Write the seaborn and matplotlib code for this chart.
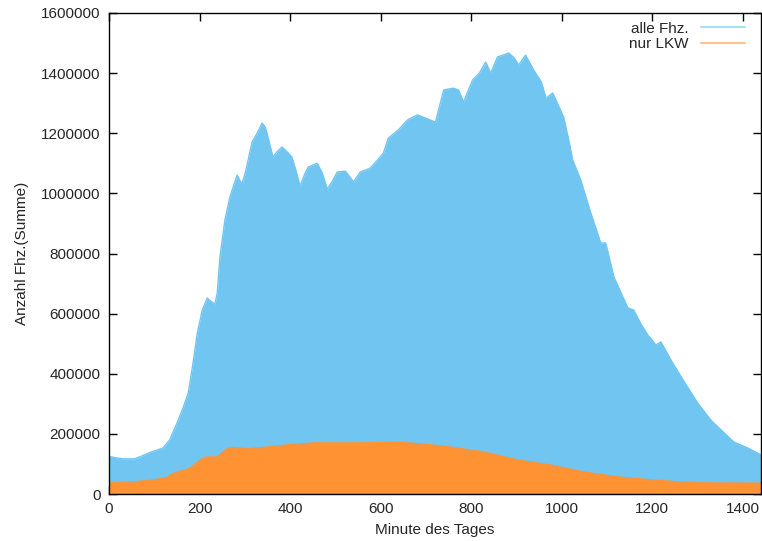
import matplotlib
matplotlib.use("Agg")
import matplotlib.pyplot as plt
import seaborn as sns
import numpy as np
import pandas as pd
from matplotlib.lines import Line2D

# --- data ---
alle_min = [0, 10, 30, 57, 75, 90, 119, 134, 149, 162, 175, 185, 195, 206, 217, 226, 234,
            239, 245, 256, 267, 283, 290, 294, 301, 316, 327, 338, 345, 349, 362, 372, 382,
            392, 404, 413, 422, 431, 440, 460, 471, 482, 493, 504, 522, 540, 555, 577, 593,
            606, 617, 639, 660, 681, 700, 721, 730, 739, 760, 772, 783, 803, 818, 832, 843,
            858, 870, 883, 895, 905, 920, 938, 955, 965, 980, 1004, 1015, 1024, 1042, 1064,
            1086, 1097, 1115, 1146, 1159, 1175, 1190, 1208, 1219, 1241, 1268, 1300, 1329,
            1352, 1380, 1411, 1440]
alle_val = [125000, 122000, 117000, 117000, 128000, 138000, 153000, 180000, 232000, 280000,
            336000, 430000, 535000, 612000, 652000, 640000, 632000, 668000, 788000, 911000,
            988000, 1061000, 1040000, 1034000, 1068000, 1171000, 1200000, 1234000, 1220000,
            1200000, 1121000, 1140000, 1154000, 1140000, 1121000, 1075000, 1024000, 1060000,
            1088000, 1100000, 1068000, 1014000, 1040000, 1071000, 1074000, 1038000, 1071000,
            1084000, 1111000, 1134000, 1184000, 1211000, 1245000, 1261000, 1250000, 1237000,
            1290000, 1344000, 1350000, 1344000, 1304000, 1377000, 1400000, 1437000, 1400000,
            1454000, 1460000, 1467000, 1450000, 1427000, 1460000, 1410000, 1370000, 1317000,
            1334000, 1254000, 1180000, 1111000, 1044000, 935000, 835000, 835000, 722000,
            619000, 612000, 565000, 529000, 496000, 506000, 446000, 379000, 303000, 246000,
            213000, 173000, 153000, 130000]

lkw_min = [0, 53, 100, 128, 141, 179, 201, 215, 239, 260, 274, 305, 349, 393, 451, 550,
           644, 700, 754, 827, 903, 976, 1049, 1124, 1197, 1263, 1308, 1440]
lkw_val = [37000, 40000, 47000, 55000, 68000, 86000, 113000, 123000, 123000, 150000,
           155000, 150000, 156000, 163000, 170000, 170000, 172000, 165000, 156000, 140000,
           113000, 96000, 73000, 57000, 47000, 40000, 37000, 36000]

labels = ["alle Fhz.", "nur LKW"]
xticks = [0, 200, 400, 600, 800, 1000, 1200, 1400]
yticks = [0, 200000, 400000, 600000, 800000, 1000000, 1200000, 1400000, 1600000]

blue = "#70C6F0"
orange = "#FF9232"

sns.set_style("ticks")
plt.rcParams["font.family"] = ["Liberation Sans", "DejaVu Sans"]

df_alle = pd.DataFrame({"Minute": alle_min, "Anzahl": alle_val})
df_lkw = pd.DataFrame({"Minute": lkw_min, "Anzahl": lkw_val})

fig = plt.figure(figsize=(7.62, 5.41), dpi=100)
ax = fig.add_axes([109 / 762, 47 / 541, 652 / 762, 481 / 541])

ax.fill_between(df_alle["Minute"], 0, df_alle["Anzahl"], color=blue, linewidth=0, zorder=1)
sns.lineplot(data=df_alle, x="Minute", y="Anzahl", ax=ax, color=blue, linewidth=1, zorder=2)
ax.fill_between(df_lkw["Minute"], 0, df_lkw["Anzahl"], color=orange, linewidth=0, zorder=3)
sns.lineplot(data=df_lkw, x="Minute", y="Anzahl", ax=ax, color=orange, linewidth=1, zorder=4)

ax.set_xlim(0, 1440)
ax.set_ylim(0, 1600000)
ax.set_xticks(xticks)
ax.set_yticks(yticks)
ax.set_xticklabels([str(t) for t in xticks])
ax.set_yticklabels([str(t) for t in yticks])
ax.tick_params(direction="in", length=6, width=1, labelsize=11, color="black",
               top=True, right=True, pad=6)
for s in ax.spines.values():
    s.set_visible(True)
    s.set_color("black")
    s.set_linewidth(1)
    s.set_zorder(10)

ax.set_xlabel("Minute des Tages", fontsize=11, labelpad=5)
ax.set_ylabel("Anzahl Fhz.(Summe)", fontsize=11, labelpad=9)

handles = [Line2D([0], [0], color="#A9DCF6", lw=1.5),
           Line2D([0], [0], color="#FFC18E", lw=1.5)]
leg = ax.legend(handles, labels, loc="upper right", bbox_to_anchor=(0.976, 0.982),
                frameon=False, markerfirst=False, borderpad=0, borderaxespad=0,
                fontsize=11, handlelength=2.9, handletextpad=0.8, labelspacing=0.12)
for t in leg.get_texts():
    t.set_ha("right")

fig.savefig("out.png", dpi=100)
